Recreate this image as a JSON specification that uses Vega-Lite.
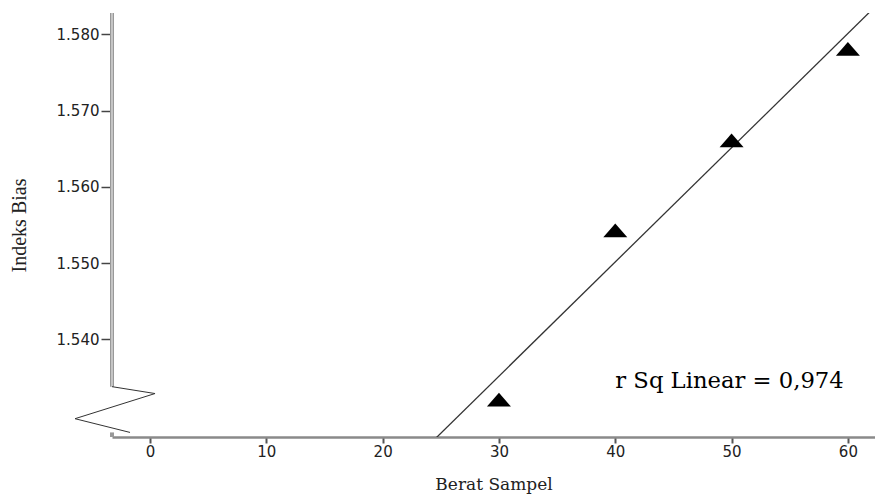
{
  "$schema": "https://vega.github.io/schema/vega-lite/v6.json",
  "width": 763,
  "height": 424,
  "autosize": {"type": "none"},
  "padding": {"left": 112, "top": 13, "right": 0, "bottom": 60},
  "background": "white",
  "config": {"view": {"stroke": null}, "axis": {"grid": false}},
  "data": {"values": [{}]},
  "datasets": {
    "samples": [
      {"berat": 30, "indeks": 1.5321},
      {"berat": 40, "indeks": 1.5543},
      {"berat": 50, "indeks": 1.5661},
      {"berat": 60, "indeks": 1.5781}
    ],
    "breakmark": [
      {"berat": -3.27, "indeks": 1.5338, "k": 0},
      {"berat": 0.43, "indeks": 1.5329, "k": 1},
      {"berat": -6.45, "indeks": 1.5296, "k": 2},
      {"berat": -1.72, "indeks": 1.5278, "k": 3}
    ]
  },
  "layer": [
    {
      "data": {"name": "samples"},
      "transform": [{"regression": "indeks", "on": "berat", "extent": [24.5, 63]}],
      "mark": {"type": "line", "color": "#333333", "strokeWidth": 1.3, "clip": true},
      "encoding": {
        "x": {
          "field": "berat", "type": "quantitative",
          "scale": {"domain": [-3.27, 62.33], "nice": false, "zero": false},
          "axis": {
            "title": "Berat Sampel", "titleFont": "DejaVu Serif", "titleFontSize": 17,
            "titleFontWeight": "normal", "titleColor": "#222222", "titlePadding": 17,
            "values": [0, 10, 20, 30, 40, 50, 60], "format": "d",
            "labelFont": "DejaVu Sans", "labelFontSize": 15, "labelColor": "#222222", "labelPadding": 1,
            "domain": true, "domainColor": "#8a8a8a", "domainWidth": 2.5,
            "tickSize": 6, "tickWidth": 2, "tickColor": "#555555"
          }
        },
        "y": {
          "field": "indeks", "type": "quantitative",
          "scale": {"domain": [1.5272, 1.5828], "nice": false, "zero": false},
          "axis": {
            "title": "Indeks Bias", "titleFont": "Liberation Serif", "titleFontSize": 20,
            "titleFontWeight": "normal", "titleColor": "#222222", "titlePadding": 27,
            "values": [1.54, 1.55, 1.56, 1.57, 1.58], "format": ".3f",
            "labelFont": "DejaVu Sans", "labelFontSize": 15, "labelColor": "#222222", "labelPadding": 2,
            "domain": false,
            "tickSize": 11, "tickWidth": 1.5, "tickColor": "#444444"
          }
        }
      }
    },
    {
      "data": {"name": "samples"},
      "mark": {"type": "point", "shape": "M-1,0.58L1,0.58L0,-0.58Z", "filled": true, "color": "black", "opacity": 1, "size": 576},
      "encoding": {
        "x": {"field": "berat", "type": "quantitative"},
        "y": {"field": "indeks", "type": "quantitative"}
      }
    },
    {
      "mark": {"type": "rule", "color": "#999999", "strokeWidth": 4},
      "encoding": {
        "x": {"datum": -3.27, "type": "quantitative"},
        "y": {"datum": 1.5338, "type": "quantitative"},
        "y2": {"datum": 1.5828}
      }
    },
    {
      "mark": {"type": "rule", "color": "#dddddd", "strokeWidth": 1.3},
      "encoding": {
        "x": {"datum": -3.27, "type": "quantitative"},
        "y": {"datum": 1.5338, "type": "quantitative"},
        "y2": {"datum": 1.5828}
      }
    },
    {
      "mark": {"type": "rule", "color": "#999999", "strokeWidth": 4},
      "encoding": {
        "x": {"datum": -3.27, "type": "quantitative"},
        "y": {"datum": 1.5272, "type": "quantitative"},
        "y2": {"datum": 1.5278}
      }
    },
    {
      "data": {"name": "breakmark"},
      "mark": {"type": "line", "color": "#333333", "strokeWidth": 1, "clip": false},
      "encoding": {
        "x": {"field": "berat", "type": "quantitative"},
        "y": {"field": "indeks", "type": "quantitative"},
        "order": {"field": "k", "type": "quantitative"}
      }
    },
    {
      "mark": {"type": "text", "text": "r Sq Linear = 0,974", "font": "DejaVu Serif", "fontSize": 22.7, "align": "left", "baseline": "alphabetic", "color": "black"},
      "encoding": {
        "x": {"datum": 40.0, "type": "quantitative"},
        "y": {"datum": 1.5336, "type": "quantitative"}
      }
    }
  ]
}
